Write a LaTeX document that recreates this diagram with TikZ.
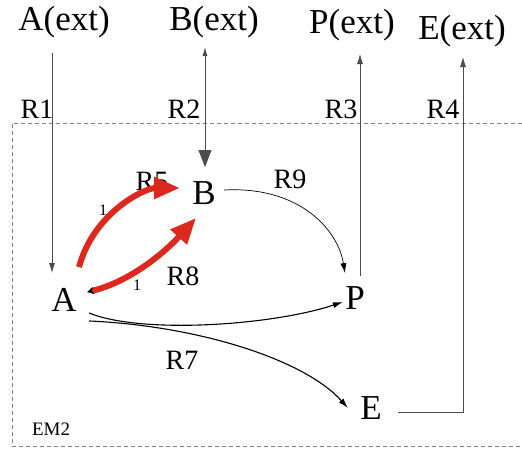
\documentclass[tikz,border=0pt]{standalone}
\usepackage{fontspec}
\setmainfont{Liberation Serif}
\usetikzlibrary{arrows.meta}
\definecolor{hotred}{RGB}{222,40,30}
\begin{document}
\begin{tikzpicture}[x=1pt, y=-1pt, line width=0.8pt,
  spec/.style={font=\fontsize{35}{40}\selectfont, inner sep=0pt},
  rlab/.style={font=\fontsize{28}{32}\selectfont, inner sep=0pt},
  coef/.style={font=\fontsize{16}{18}\selectfont, inner sep=0pt},
  flux/.style={-{Latex[length=10pt,width=6pt]}},
  hot/.style={draw=hotred, line width=6pt, -{Triangle[length=26pt,width=21pt]}}]
  \useasboundingbox (0,0) rectangle (522,448);
  % compartment EM2
  \draw[gray, dash pattern=on 4pt off 3pt] (522,123) -- (12,123) -- (12,446) -- (522,446);
  \node[font=\fontsize{19}{22}\selectfont, inner sep=0pt] (em) at (51,429) {EM2};
  % external species
  \node[spec] (Aext) at (64,22) {A(ext)};
  \node[spec] (Bext) at (214,22) {B(ext)};
  \node[spec] (Pext) at (352,25) {P(ext)};
  \node[spec] (Eext) at (462,31) {E(ext)};
  % internal species
  \node[spec] (A) at (64,300) {A};
  \node[spec] (B) at (204,193) {B};
  \node[spec] (P) at (355,298) {P};
  \node[spec] (E) at (371,408) {E};
  % reaction labels
  \node[rlab] (r1) at (37,109) {R1};
  \node[rlab] (r2) at (184,109) {R2};
  \node[rlab] (r3) at (341,109) {R3};
  \node[rlab] (r4) at (443,109) {R4};
  \node[rlab] (r5) at (152,181) {R5};
  \node[rlab] (r9) at (290,179) {R9};
  \node[rlab] (r8) at (183,276) {R8};
  \node[rlab] (r7) at (182,360) {R7};
  \node[coef] (c5) at (103,210) {1};
  \node[coef] (c8) at (137,285) {1};
  % free ends of the transport lines
  \coordinate (a1) at (52,53);
  \coordinate (a2) at (52,273);
  \coordinate (b1) at (205,47);
  \coordinate (b2) at (205,167);
  \coordinate (p1) at (360,276);
  \coordinate (p2) at (360,54);
  \coordinate (e1) at (398,412);
  \coordinate (e2) at (463,57);
  % transport R1--R4
  \draw[flux, gray!60!black] (a1) -- (a2);
  \draw[gray!60!black, {Latex[length=9pt,width=5pt]}-{Triangle[length=17pt,width=13pt]}] (b1) -- (b2);
  \draw[flux, gray!60!black] (p1) -- (p2);
  \draw[flux, gray!60!black] (e1) -- (e1 -| e2) -- (e2);
  % R9, R6, R7
  \draw[flux, line width=0.7pt] ([xshift=8pt,yshift=3pt]B.east) .. controls (300,186) and (338,230) .. ([xshift=-10pt,yshift=13pt]P.north);
  \draw[flux, line width=1.1pt] ([xshift=12pt,yshift=-1pt]A.south east) .. controls (140,334) and (270,326) .. ([xshift=-2pt,yshift=-4pt]P.west);
  \draw[flux, line width=1.1pt] ([xshift=12pt,yshift=-9pt]A.south east) .. controls (200,326) and (305,360) .. ([xshift=-12pt]E.west);
  % R5, R8
  \draw[hot] ([xshift=15pt,yshift=21pt]A.north) .. controls (94,212) and (145,188) .. ([xshift=-12pt,yshift=5pt]B.west);
  \draw[hot, {Stealth[black,length=7pt,width=7pt]}-{Triangle[length=26pt,width=21pt]}] ([xshift=10pt,yshift=-4pt]A.north east) .. controls (130,282) and (165,252) .. ([xshift=-20pt,yshift=-13pt]B.south east);
\end{tikzpicture}
\end{document}
